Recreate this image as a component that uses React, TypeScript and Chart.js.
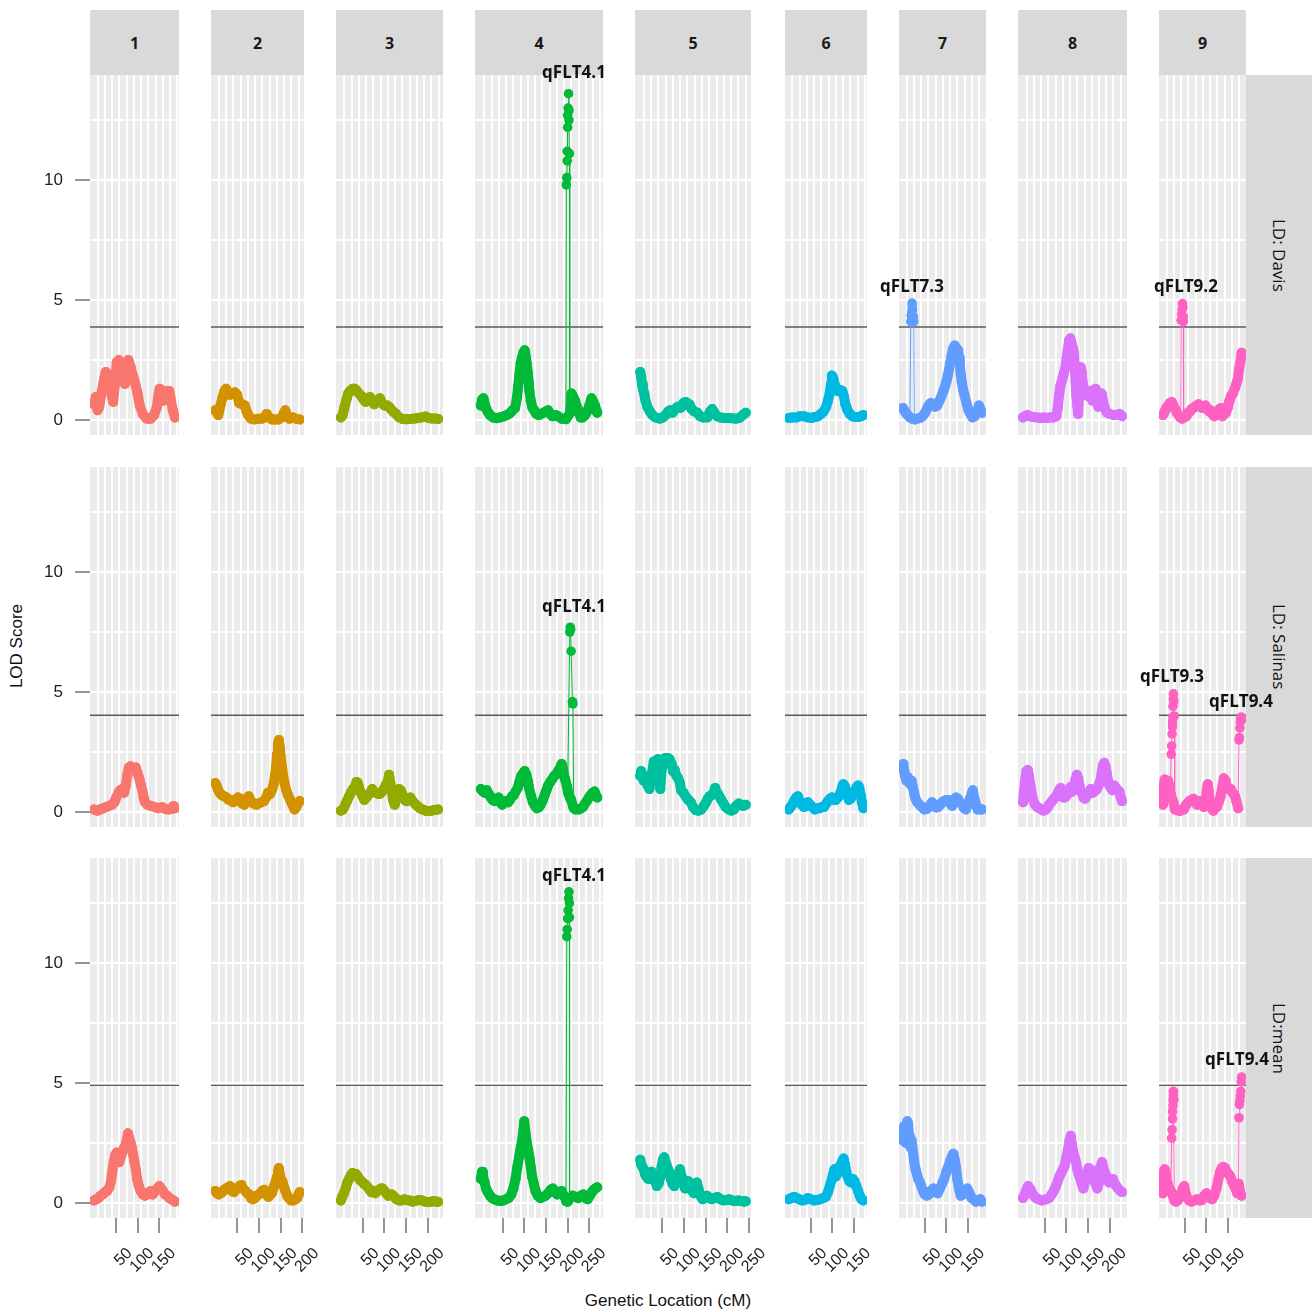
import React, { useEffect, useRef } from 'react';
import { Chart, registerables } from 'chart.js';

Chart.register(...registerables);

type Pt = [number, number];

// ---------------- DATA ----------------
const chromosomes = ['1', '2', '3', '4', '5', '6', '7', '8', '9'];
const chrLengths = [186, 194, 224, 268, 242, 171, 182, 228, 182]; // cM
const chrColors = ['#F8766D', '#D39200', '#93AA00', '#00BA38', '#00C19F', '#00B9E3', '#619CFF', '#DB72FB', '#FF61C3'];
const environments = ['LD: Davis', 'LD: Salinas', 'LD:mean'];
const thresholds = [3.87, 4.03, 4.9];
const lodTickLabels = [0, 5, 10];
const positionTickLabels = [50, 100, 150, 200, 250];

// LD: Davis
const davis1: Pt[] = [[0,0.65],[4,0.95],[8,0.4],[12,0.55],[17,1.1],[22,1.6],[27,2.0],[32,1.8],[37,1.5],[41,1.0],[44,0.75],[48,1.5],[52,2.4],[57,2.5],[61,2.0],[66,1.6],[71,1.5],[76,2.2],[79,2.5],[84,2.2],[90,1.8],[95,1.5],[100,1.1],[105,0.6],[112,0.25],[121,0.05],[130,0.05],[138,0.2],[144,0.5],[148,1.0],[151,1.3],[155,1.2],[159,0.8],[163,1.0],[168,1.2],[173,1.2],[177,0.8],[181,0.4],[186,0.1]];
const davis2: Pt[] = [[0,0.4],[4,0.3],[7,0.2],[12,0.6],[17,0.95],[21,1.2],[25,1.3],[30,1.15],[34,1.05],[40,1.1],[45,1.15],[50,1.05],[55,0.7],[62,0.65],[68,0.6],[72,0.35],[76,0.2],[82,0.05],[90,0.02],[100,0.05],[107,0.05],[113,0.1],[118,0.25],[124,0.1],[130,0.02],[138,0.02],[145,0.02],[152,0.1],[158,0.3],[161,0.4],[165,0.15],[170,0.05],[178,0.1],[185,0.05],[194,0.02]];
const davis3: Pt[] = [[0,0.1],[4,0.2],[8,0.5],[13,0.85],[17,1.1],[21,1.2],[27,1.3],[32,1.3],[37,1.2],[42,1.1],[47,1.0],[52,0.85],[57,0.75],[62,0.85],[67,0.95],[72,0.8],[77,0.65],[83,0.75],[90,0.9],[95,0.7],[100,0.6],[107,0.6],[113,0.5],[120,0.35],[127,0.25],[134,0.1],[142,0.04],[150,0.03],[160,0.04],[170,0.06],[178,0.08],[186,0.1],[195,0.14],[202,0.08],[209,0.06],[216,0.06],[224,0.04]];
const davis4: Pt[] = [[0,0.6],[3,0.85],[6,0.9],[10,0.6],[13,0.45],[17,0.3],[21,0.2],[28,0.1],[36,0.07],[44,0.1],[52,0.14],[60,0.2],[67,0.28],[73,0.4],[79,0.5],[83,0.9],[86,1.4],[89,1.9],[92,2.4],[95,2.6],[98,2.8],[101,2.9],[104,2.6],[106,2.3],[108,2.0],[110,1.6],[112,1.2],[115,0.8],[119,0.5],[123,0.4],[128,0.25],[133,0.2],[139,0.25],[144,0.3],[150,0.35],[155,0.4],[160,0.25],[165,0.15],[172,0.2],[178,0.15],[186,0.05],[192,0.05],[196,0.03],[206,0.3],[209,1.1],[213,0.95],[217,0.8],[221,0.55],[225,0.4],[230,0.1],[235,0.1],[240,0.2],[245,0.35],[250,0.6],[255,0.9],[259,0.75],[263,0.6],[268,0.3]];
const davis5: Pt[] = [[0,2.0],[2,1.8],[4,1.5],[6,1.3],[9,1.1],[12,0.8],[16,0.55],[22,0.35],[28,0.2],[35,0.1],[45,0.05],[52,0.1],[58,0.2],[64,0.35],[68,0.4],[74,0.3],[80,0.45],[86,0.55],[92,0.5],[99,0.7],[104,0.75],[109,0.6],[113,0.65],[118,0.45],[124,0.35],[131,0.3],[137,0.15],[145,0.1],[154,0.1],[160,0.35],[165,0.45],[170,0.3],[176,0.15],[184,0.1],[192,0.08],[200,0.08],[210,0.07],[220,0.05],[228,0.08],[235,0.2],[242,0.3]];
const davis6: Pt[] = [[0,0.08],[8,0.1],[17,0.1],[26,0.15],[35,0.15],[44,0.1],[53,0.08],[60,0.12],[67,0.15],[74,0.25],[80,0.35],[86,0.55],[90,0.8],[94,1.1],[97,1.5],[99,1.85],[102,1.75],[105,1.5],[108,1.3],[113,1.2],[118,1.25],[123,1.2],[127,0.95],[130,0.65],[135,0.4],[140,0.25],[146,0.15],[153,0.12],[160,0.12],[166,0.15],[171,0.2]];
const davis7: Pt[] = [[0,0.5],[3,0.4],[6,0.3],[11,0.2],[16,0.1],[21,0.05],[27,0.02],[33,0.05],[39,0.08],[45,0.15],[51,0.3],[55,0.45],[59,0.6],[64,0.7],[69,0.65],[74,0.55],[79,0.6],[84,0.8],[89,1.0],[93,1.2],[97,1.4],[100,1.6],[103,1.85],[106,2.1],[109,2.4],[112,2.7],[115,2.95],[119,3.1],[123,3.0],[127,2.9],[129,2.6],[131,2.3],[133,1.9],[135,1.6],[138,1.3],[142,1.0],[147,0.65],[151,0.4],[155,0.25],[160,0.1],[165,0.15],[170,0.3],[175,0.6],[178,0.45],[182,0.3]];
const davis8: Pt[] = [[0,0.1],[5,0.15],[10,0.2],[17,0.15],[24,0.12],[32,0.1],[40,0.08],[48,0.1],[55,0.08],[62,0.1],[70,0.1],[77,0.15],[80,0.5],[83,1.0],[86,1.4],[89,1.6],[92,1.8],[95,2.0],[98,2.2],[100,2.5],[103,2.9],[106,3.3],[109,3.4],[112,3.2],[115,3.0],[117,2.8],[119,2.3],[121,1.6],[123,1.0],[125,0.6],[127,0.25],[129,1.0],[131,1.8],[133,2.2],[135,2.0],[137,1.6],[140,1.3],[144,1.1],[148,1.0],[152,1.2],[156,1.0],[160,0.8],[164,1.1],[167,1.3],[170,0.9],[173,0.55],[177,0.8],[181,1.1],[184,0.8],[188,0.5],[193,0.3],[200,0.25],[208,0.2],[215,0.2],[222,0.25],[228,0.15]];
const davis9: Pt[] = [[0,0.2],[4,0.35],[8,0.5],[12,0.6],[16,0.7],[20,0.75],[24,0.6],[28,0.45],[32,0.3],[36,0.2],[40,0.1],[44,0.05],[49,0.1],[54,0.15],[58,0.3],[62,0.35],[66,0.45],[70,0.5],[74,0.55],[78,0.6],[82,0.65],[86,0.55],[90,0.5],[94,0.55],[98,0.6],[102,0.45],[106,0.35],[110,0.4],[114,0.25],[118,0.15],[122,0.2],[126,0.35],[130,0.45],[134,0.5],[137,0.15],[141,0.25],[145,0.3],[149,0.5],[153,0.8],[157,1.0],[161,1.1],[165,1.3],[169,1.5],[172,1.7],[175,2.1],[178,2.4],[181,2.8]];
const davisPeak4: Pt[] = [[196,0.05],[197,9.8],[198,10.1],[199,10.8],[199,11.2],[200,12.2],[200,12.7],[201,13.0],[202,13.6],[203,12.9],[203,12.5],[204,11.1],[205,0.3]];
const davisPeak7: Pt[] = [[16,0.1],[18,4.1],[19,4.35],[20,4.5],[21,4.75],[21,4.87],[22,4.6],[24,4.3],[25,4.1],[26,0.05]];
const davisPeak9: Pt[] = [[41,0.1],[42,4.15],[43,4.4],[44,4.6],[45,4.85],[46,4.7],[47,4.3],[47,4.1],[48,0.1]];

// LD: Salinas
const salinas1: Pt[] = [[0,0.1],[8,0.05],[14,0.1],[21,0.15],[28,0.2],[34,0.25],[41,0.3],[47,0.4],[51,0.6],[56,0.8],[60,0.9],[65,0.95],[69,0.8],[73,1.1],[76,1.5],[80,1.85],[84,1.9],[88,1.75],[92,1.8],[96,1.85],[100,1.6],[104,1.4],[108,1.1],[111,0.9],[114,0.6],[117,0.4],[123,0.3],[130,0.25],[139,0.2],[147,0.15],[156,0.2],[164,0.12],[171,0.1],[178,0.12],[183,0.25],[186,0.15]];
const salinas2: Pt[] = [[0,1.2],[3,1.1],[6,0.95],[10,0.8],[15,0.7],[20,0.65],[26,0.6],[31,0.5],[36,0.5],[41,0.4],[47,0.5],[52,0.6],[57,0.55],[62,0.35],[67,0.3],[72,0.55],[77,0.65],[82,0.45],[88,0.35],[94,0.3],[100,0.35],[106,0.4],[112,0.45],[117,0.6],[121,0.8],[126,0.75],[130,0.9],[134,1.15],[137,1.5],[140,1.9],[142,2.4],[144,2.8],[146,3.0],[148,2.7],[150,2.3],[153,1.9],[156,1.5],[159,1.2],[163,0.9],[167,0.7],[172,0.5],[177,0.3],[182,0.1],[186,0.2],[190,0.35],[194,0.45]];
const salinas3: Pt[] = [[0,0.05],[5,0.1],[10,0.3],[14,0.45],[19,0.65],[23,0.8],[28,0.95],[32,1.0],[36,1.25],[39,1.2],[42,1.0],[46,0.8],[50,0.65],[54,0.5],[59,0.6],[63,0.7],[68,0.8],[72,0.95],[76,0.85],[81,0.8],[86,0.75],[90,0.75],[95,0.85],[99,0.95],[104,1.15],[108,1.25],[111,1.55],[114,1.2],[117,0.9],[120,0.5],[124,0.3],[127,0.6],[130,0.85],[134,0.95],[138,0.9],[142,0.7],[147,0.5],[151,0.45],[156,0.55],[160,0.6],[165,0.45],[170,0.35],[176,0.25],[182,0.15],[188,0.1],[195,0.05],[202,0.04],[209,0.05],[216,0.08],[224,0.1]];
const salinas4: Pt[] = [[0,0.95],[5,0.85],[9,0.8],[14,0.9],[18,0.75],[23,0.6],[27,0.5],[32,0.45],[36,0.55],[41,0.6],[45,0.45],[49,0.3],[54,0.4],[58,0.45],[63,0.4],[67,0.5],[72,0.65],[76,0.7],[80,0.85],[85,1.0],[89,1.25],[93,1.5],[97,1.6],[101,1.7],[105,1.55],[108,1.3],[111,1.0],[115,0.7],[120,0.4],[125,0.25],[129,0.15],[134,0.2],[138,0.3],[143,0.5],[147,0.7],[151,0.9],[155,1.1],[160,1.25],[164,1.35],[169,1.5],[173,1.55],[178,1.7],[182,1.8],[186,2.0],[189,1.8],[192,1.5],[195,1.3],[198,1.1],[201,0.8],[205,0.6],[208,0.5],[214,0.15],[218,0.1],[222,0.12],[226,0.1],[231,0.15],[235,0.2],[240,0.35],[244,0.45],[249,0.6],[253,0.7],[258,0.8],[262,0.85],[265,0.7],[268,0.6]];
const salinas5: Pt[] = [[0,1.5],[2,1.7],[5,1.45],[8,1.3],[11,1.5],[14,1.3],[17,1.1],[21,0.95],[24,1.3],[27,1.6],[31,2.1],[35,2.0],[38,2.15],[41,2.2],[44,1.6],[46,0.95],[48,1.5],[50,1.9],[54,2.2],[58,2.25],[63,2.25],[67,2.2],[72,2.0],[75,1.7],[79,1.75],[83,1.5],[87,1.4],[91,1.2],[94,0.9],[99,0.8],[104,0.65],[110,0.5],[116,0.4],[121,0.2],[127,0.08],[133,0.05],[140,0.1],[146,0.25],[151,0.4],[155,0.55],[159,0.65],[164,0.7],[168,0.8],[172,1.0],[176,0.8],[180,0.7],[186,0.5],[191,0.35],[196,0.2],[203,0.1],[209,0.05],[215,0.1],[220,0.25],[226,0.35],[231,0.3],[236,0.25],[242,0.3]];
const salinas6: Pt[] = [[0,0.1],[4,0.2],[8,0.3],[12,0.45],[17,0.6],[21,0.65],[25,0.45],[30,0.3],[35,0.2],[40,0.3],[44,0.4],[49,0.3],[54,0.2],[60,0.1],[66,0.15],[71,0.15],[76,0.2],[81,0.2],[86,0.35],[90,0.45],[95,0.55],[99,0.6],[104,0.5],[108,0.5],[113,0.6],[118,0.75],[122,1.0],[125,1.15],[128,1.1],[131,0.9],[134,0.7],[138,0.5],[142,0.55],[146,0.7],[150,0.85],[155,1.0],[159,1.1],[162,1.0],[165,0.7],[168,0.4],[171,0.15]];
const salinas7: Pt[] = [[0,1.8],[1,2.0],[3,1.7],[5,1.5],[8,1.3],[11,1.45],[14,1.3],[17,1.15],[20,1.3],[23,1.0],[26,0.75],[29,0.55],[33,0.4],[38,0.3],[44,0.2],[49,0.1],[54,0.12],[59,0.18],[63,0.3],[67,0.4],[71,0.3],[76,0.18],[81,0.2],[86,0.3],[90,0.4],[95,0.45],[100,0.5],[104,0.5],[109,0.35],[113,0.25],[118,0.45],[122,0.6],[126,0.55],[131,0.4],[136,0.3],[141,0.15],[145,0.1],[150,0.35],[154,0.55],[158,0.75],[161,0.9],[164,0.6],[168,0.3],[172,0.1],[177,0.1],[182,0.1]];
const salinas8: Pt[] = [[0,0.4],[2,0.8],[5,1.3],[8,1.7],[11,1.75],[14,1.5],[17,1.1],[20,0.8],[23,0.5],[28,0.3],[33,0.2],[38,0.15],[42,0.1],[47,0.05],[51,0.08],[56,0.15],[60,0.3],[65,0.4],[69,0.5],[74,0.6],[78,0.7],[83,0.9],[87,1.0],[90,0.75],[93,0.6],[97,0.6],[101,0.7],[105,0.85],[110,1.05],[114,0.85],[117,1.0],[120,1.3],[124,1.55],[127,1.4],[130,1.1],[134,0.85],[139,0.6],[143,0.55],[148,0.7],[152,0.8],[156,0.95],[160,0.8],[165,0.85],[170,0.95],[174,1.1],[178,1.3],[181,1.6],[184,1.95],[187,2.05],[190,1.9],[193,1.6],[196,1.3],[199,1.1],[202,1.0],[206,0.9],[210,1.1],[214,1.0],[218,0.9],[222,0.85],[225,0.6],[228,0.45]];
const salinas9: Pt[] = [[0,0.3],[1,0.75],[2,1.1],[4,1.35],[6,1.3],[9,1.2],[12,1.3],[15,1.1],[17,0.8],[20,0.6],[24,0.4],[28,0.1],[32,0.1],[36,0.05],[40,0.04],[44,0.1],[48,0.1],[52,0.25],[56,0.35],[61,0.45],[66,0.5],[70,0.55],[74,0.45],[78,0.3],[82,0.4],[86,0.45],[90,0.3],[94,0.2],[98,0.5],[101,0.9],[103,1.15],[105,0.9],[108,0.4],[112,0.15],[116,0.05],[120,0.15],[124,0.2],[128,0.4],[132,0.6],[136,1.0],[140,1.4],[144,1.3],[148,1.0],[152,0.95],[156,0.95],[160,0.8],[165,0.7],[169,0.45],[173,0.15]];
const salinasPeak4: Pt[] = [[200,1.0],[205,7.5],[206,7.7],[207,7.6],[208,6.7],[211,4.6],[212,4.5],[214,0.2]];
const salinasPeak9a: Pt[] = [[17,0.9],[19,2.4],[20,2.75],[21,3.25],[22,3.55],[22,3.75],[23,3.95],[23,4.4],[24,4.7],[24,4.92],[25,4.6],[26,4.0],[27,0.1]];
const salinasPeak9b: Pt[] = [[173,0.15],[175,3.0],[176,3.1],[177,3.5],[178,3.75],[179,3.9],[180,3.95],[181,3.85]];

// LD:mean
const mean1: Pt[] = [[0,0.1],[5,0.15],[10,0.2],[15,0.3],[20,0.35],[25,0.45],[30,0.5],[35,0.65],[39,0.9],[42,1.3],[45,1.7],[49,2.0],[52,2.1],[55,1.9],[58,1.7],[61,1.9],[65,2.1],[69,2.3],[72,2.4],[75,2.6],[78,2.9],[81,2.7],[84,2.5],[87,2.3],[90,2.0],[93,1.7],[96,1.4],[99,1.0],[103,0.7],[107,0.5],[112,0.35],[117,0.3],[122,0.35],[127,0.45],[131,0.5],[135,0.35],[140,0.5],[145,0.6],[150,0.7],[154,0.6],[158,0.5],[163,0.35],[168,0.3],[173,0.2],[178,0.15],[182,0.1],[186,0.05]];
const mean2: Pt[] = [[0,0.5],[4,0.4],[8,0.35],[12,0.4],[16,0.45],[21,0.55],[25,0.6],[30,0.65],[34,0.7],[38,0.5],[43,0.45],[47,0.55],[51,0.6],[56,0.7],[60,0.75],[64,0.6],[69,0.5],[73,0.4],[78,0.35],[82,0.2],[86,0.15],[91,0.2],[95,0.3],[100,0.35],[104,0.4],[108,0.5],[113,0.55],[117,0.35],[122,0.25],[126,0.35],[130,0.4],[135,0.7],[139,0.9],[142,1.1],[144,1.3],[146,1.45],[148,1.2],[151,0.9],[154,0.9],[157,0.7],[161,0.5],[165,0.3],[169,0.2],[174,0.1],[179,0.1],[184,0.15],[188,0.2],[191,0.35],[194,0.45]];
const mean3: Pt[] = [[0,0.1],[3,0.25],[7,0.4],[11,0.6],[15,0.85],[19,1.0],[23,1.15],[27,1.25],[31,1.2],[35,1.2],[39,1.1],[44,0.95],[48,0.9],[53,0.8],[57,0.75],[62,0.65],[66,0.55],[70,0.45],[75,0.5],[79,0.4],[84,0.5],[88,0.55],[92,0.6],[96,0.6],[100,0.5],[104,0.4],[109,0.3],[113,0.35],[118,0.35],[123,0.25],[128,0.15],[134,0.1],[140,0.1],[146,0.15],[152,0.12],[158,0.1],[165,0.05],[172,0.08],[180,0.12],[187,0.1],[194,0.05],[201,0.03],[208,0.05],[215,0.08],[220,0.04],[224,0.05]];
const mean4: Pt[] = [[0,1.0],[3,1.3],[5,1.1],[8,0.9],[12,0.6],[16,0.45],[21,0.3],[26,0.2],[31,0.15],[38,0.1],[45,0.08],[52,0.1],[58,0.15],[64,0.2],[70,0.35],[75,0.6],[80,1.0],[84,1.5],[88,1.9],[92,2.3],[95,2.6],[98,3.0],[100,3.4],[103,2.9],[106,2.5],[109,2.2],[112,1.9],[115,1.5],[118,1.1],[122,0.8],[126,0.5],[131,0.3],[137,0.2],[143,0.25],[149,0.3],[155,0.4],[161,0.55],[166,0.6],[171,0.45],[176,0.35],[181,0.4],[186,0.5],[191,0.3],[196,0.15],[200,0.05],[206,0.2],[212,0.3],[218,0.25],[224,0.2],[230,0.3],[236,0.35],[241,0.2],[246,0.15],[251,0.3],[256,0.45],[260,0.55],[264,0.6],[268,0.65]];
const mean5: Pt[] = [[0,1.8],[2,1.6],[5,1.5],[8,1.4],[11,1.2],[14,1.1],[18,1.0],[22,1.2],[26,1.3],[30,1.1],[34,0.9],[38,0.7],[42,0.8],[46,1.1],[49,1.5],[52,1.8],[55,1.9],[58,1.7],[62,1.5],[66,1.3],[70,1.0],[74,0.8],[78,0.7],[82,0.9],[87,1.2],[91,1.4],[95,1.1],[99,0.8],[103,0.6],[107,0.75],[111,0.9],[115,0.7],[119,0.5],[123,0.4],[127,0.7],[130,0.85],[134,0.55],[138,0.3],[143,0.15],[148,0.2],[153,0.3],[158,0.2],[164,0.15],[170,0.2],[177,0.25],[184,0.15],[190,0.1],[197,0.12],[204,0.15],[211,0.1],[218,0.08],[225,0.1],[232,0.08],[238,0.05],[242,0.07]];
const mean6: Pt[] = [[0,0.15],[6,0.2],[12,0.25],[18,0.2],[24,0.15],[30,0.1],[37,0.12],[44,0.2],[51,0.15],[58,0.1],[65,0.12],[72,0.15],[79,0.2],[85,0.25],[90,0.45],[95,0.75],[99,1.0],[102,1.2],[105,1.4],[108,1.1],[111,1.2],[115,1.4],[118,1.55],[122,1.7],[126,1.85],[129,1.6],[132,1.3],[135,1.1],[139,0.9],[143,0.85],[147,1.0],[151,0.9],[155,0.7],[159,0.5],[163,0.3],[167,0.15],[171,0.1]];
const mean7: Pt[] = [[0,2.6],[1,2.9],[3,3.2],[5,2.7],[7,2.5],[9,3.0],[10,3.4],[12,3.3],[14,2.8],[16,2.5],[18,2.3],[20,2.6],[22,2.3],[24,2.0],[26,1.7],[29,1.4],[32,1.2],[35,1.0],[38,0.9],[42,0.7],[46,0.5],[50,0.35],[55,0.3],[60,0.35],[65,0.5],[70,0.6],[75,0.5],[80,0.4],[85,0.6],[90,0.8],[95,1.0],[100,1.3],[104,1.5],[108,1.7],[112,1.9],[116,2.05],[119,1.8],[122,1.5],[125,1.0],[129,0.6],[133,0.3],[138,0.35],[143,0.5],[148,0.6],[153,0.4],[158,0.2],[163,0.15],[168,0.05],[173,0.1],[178,0.15],[182,0.05]];
const mean8: Pt[] = [[0,0.2],[4,0.35],[8,0.55],[12,0.7],[16,0.6],[20,0.45],[25,0.3],[30,0.2],[36,0.15],[42,0.1],[48,0.12],[54,0.15],[60,0.2],[66,0.35],[71,0.5],[76,0.7],[80,0.9],[84,1.1],[88,1.25],[92,1.4],[96,1.55],[100,1.9],[104,2.25],[107,2.6],[110,2.8],[113,2.4],[116,2.1],[119,1.9],[122,1.7],[125,1.4],[128,1.2],[132,1.0],[135,0.8],[139,0.6],[143,0.9],[147,1.2],[151,1.45],[155,1.4],[159,1.2],[163,1.0],[167,0.8],[171,0.6],[174,0.8],[178,1.5],[182,1.7],[186,1.4],[190,1.2],[194,1.0],[198,0.85],[202,0.9],[207,1.0],[211,0.8],[215,0.7],[219,0.6],[224,0.5],[228,0.45]];
const mean9: Pt[] = [[0,0.4],[1,0.9],[2,1.3],[4,1.4],[6,1.3],[8,1.0],[11,0.8],[14,0.6],[17,0.5],[20,0.45],[23,0.3],[26,0.1],[30,0.05],[34,0.1],[38,0.2],[42,0.4],[46,0.6],[49,0.7],[52,0.4],[56,0.2],[60,0.1],[66,0.05],[72,0.1],[78,0.15],[84,0.1],[90,0.12],[95,0.3],[100,0.4],[104,0.3],[108,0.2],[113,0.15],[118,0.3],[123,0.6],[127,0.95],[131,1.25],[135,1.45],[139,1.5],[143,1.45],[147,1.3],[151,1.2],[155,1.1],[159,0.9],[163,0.75],[167,0.6],[171,0.4],[174,0.8],[176,0.6],[178,0.4],[181,0.3]];
const meanPeak4: Pt[] = [[196,0.05],[198,11.1],[199,11.4],[200,11.85],[201,12.2],[202,12.7],[203,12.97],[204,12.5],[204,11.9],[205,0.2]];
const meanPeak9a: Pt[] = [[18,0.5],[20,2.7],[21,3.05],[22,3.5],[22,3.8],[23,4.05],[23,4.3],[24,4.5],[24,4.65],[25,4.3],[26,0.1]];
const meanPeak9b: Pt[] = [[174,0.8],[175,3.55],[176,4.1],[177,4.25],[178,4.45],[179,4.65],[180,5.05],[181,5.25]];

const scanCurves: Pt[][][] = [
  [davis1, davis2, davis3, davis4, davis5, davis6, davis7, davis8, davis9],
  [salinas1, salinas2, salinas3, salinas4, salinas5, salinas6, salinas7, salinas8, salinas9],
  [mean1, mean2, mean3, mean4, mean5, mean6, mean7, mean8, mean9],
];
const peakSegments: Pt[][][][] = [
  [[], [], [], [davisPeak4], [], [], [davisPeak7], [], [davisPeak9]],
  [[], [], [], [salinasPeak4], [], [], [], [], [salinasPeak9a, salinasPeak9b]],
  [[], [], [], [meanPeak4], [], [], [], [], [meanPeak9a, meanPeak9b]],
];
const qtlLabels = [
  { env: 0, chr: 3, name: 'qFLT4.1', cM: 214.5, lod: 14.46 },
  { env: 0, chr: 6, name: 'qFLT7.3', cM: 20.8, lod: 5.54 },
  { env: 0, chr: 8, name: 'qFLT9.2', cM: 53, lod: 5.54 },
  { env: 1, chr: 3, name: 'qFLT4.1', cM: 214.5, lod: 8.54 },
  { env: 1, chr: 8, name: 'qFLT9.3', cM: 20.8, lod: 5.61 },
  { env: 1, chr: 8, name: 'qFLT9.4', cM: 179.6, lod: 4.56 },
  { env: 2, chr: 3, name: 'qFLT4.1', cM: 214.5, lod: 13.64 },
  { env: 2, chr: 8, name: 'qFLT9.4', cM: 170.4, lod: 5.94 },
];

// ---------------- LAYOUT ----------------
const COL_LEFT = [90, 211, 336, 475, 635, 785, 899, 1018, 1159];
const COL_RIGHT = [179, 304, 443, 603, 751, 867, 986, 1127, 1246];
const ROW_TOP = [75, 467, 858];
const ROW_BOTTOM = [435, 827, 1218];
const LOD_MIN = -0.63;
const LOD_MAX = 14.38;
const STRIP_TOP = 10;
const STRIP_RIGHT_W = 66;
const AXIS_FONT = "'Liberation Sans', Arial, sans-serif";
const LABEL_FONT = "'Open Sans', 'Noto Sans', sans-serif";

const isMultiple = (v: number, step: number) => Math.abs(v / step - Math.round(v / step)) < 1e-6;

function PanelChart({ r, c }: { r: number; c: number }) {
  const ref = useRef<HTMLCanvasElement | null>(null);
  const padL = c === 0 ? 82 : 30;
  const padR = 30;
  const padT = 30;
  const padB = r === 2 ? 80 : 30;
  const pw = COL_RIGHT[c] - COL_LEFT[c];
  const ph = ROW_BOTTOM[r] - ROW_TOP[r];
  const W = pw + padL + padR;
  const H = ph + padT + padB;

  useEffect(() => {
    if (!ref.current) return;
    const L = chrLengths[c];
    const xMin = -0.05 * L;
    const xMax = 1.05 * L;
    const color = chrColors[c];
    const gridStep = positionTickLabels[0] / 6; // 25/3 cM
    const xGrid: number[] = [];
    for (let k = 1; k * gridStep < xMax; k += 2) xGrid.push(k * gridStep);
    const xTicks = positionTickLabels.filter((v) => v <= xMax);
    const xAll = [...xGrid, ...xTicks].sort((a, b) => a - b);
    const lodStep = lodTickLabels[1] - lodTickLabels[0];
    const yAll: number[] = [];
    for (let v = 0; v < LOD_MAX; v += lodStep / 2) yAll.push(v);

    const curve = scanCurves[r][c];
    const peaks = peakSegments[r][c];
    const labels = qtlLabels.filter((q) => q.env === r && q.chr === c);
    const thr = thresholds[r];

    const datasets: any[] = [
      {
        data: curve.map(([x, y]) => ({ x, y })),
        showLine: true,
        borderColor: color,
        backgroundColor: color,
        borderWidth: 10,
        borderCapStyle: 'round',
        borderJoinStyle: 'round',
        pointRadius: 5,
        pointBorderWidth: 0,
        pointBackgroundColor: color,
        pointHoverRadius: 5,
      },
      ...peaks.map((p) => ({
        data: p.map(([x, y]) => ({ x, y })),
        showLine: true,
        borderColor: color,
        backgroundColor: color,
        borderWidth: 1,
        pointRadius: 4.8,
        pointBorderWidth: 0,
        pointBackgroundColor: color,
        pointHoverRadius: 4.8,
      })),
    ];

    const bgPlugin = {
      id: 'panelBg',
      beforeDraw(chart: any) {
        const { ctx, chartArea: a } = chart;
        ctx.save();
        ctx.fillStyle = '#EBEBEB';
        ctx.fillRect(a.left, a.top, a.right - a.left, a.bottom - a.top);
        ctx.restore();
      },
    };
    const thrPlugin = {
      id: 'threshold',
      beforeDatasetsDraw(chart: any) {
        const { ctx, chartArea: a } = chart;
        const y = chart.scales.y.getPixelForValue(thr);
        ctx.save();
        ctx.strokeStyle = '#5A5A5A';
        ctx.lineWidth = 1.4;
        ctx.beginPath();
        ctx.moveTo(a.left, y);
        ctx.lineTo(a.right, y);
        ctx.stroke();
        ctx.restore();
      },
    };
    const labelPlugin = {
      id: 'qtlLabels',
      afterDraw(chart: any) {
        const { ctx } = chart;
        ctx.save();
        ctx.font = `bold 17px ${LABEL_FONT}`;
        ctx.fillStyle = '#111111';
        ctx.textAlign = 'center';
        ctx.textBaseline = 'middle';
        labels.forEach((q) => {
          ctx.fillText(q.name, chart.scales.x.getPixelForValue(q.cM), chart.scales.y.getPixelForValue(q.lod));
        });
        ctx.restore();
      },
    };

    const chart = new Chart(ref.current, {
      type: 'scatter',
      data: { datasets },
      plugins: [bgPlugin, thrPlugin, labelPlugin],
      options: {
        responsive: false,
        maintainAspectRatio: false,
        animation: false,
        devicePixelRatio: 1,
        events: [],
        layout: { padding: { left: c === 0 ? 0 : 30, right: 30, top: 30, bottom: r === 2 ? 0 : 30 } },
        plugins: { legend: { display: false }, tooltip: { enabled: false } },
        scales: {
          x: {
            type: 'linear',
            min: xMin,
            max: xMax,
            afterBuildTicks: (s: any) => { s.ticks = xAll.map((v) => ({ value: v })); },
            afterFit: (s: any) => { s.height = r === 2 ? 80 : 0; s.paddingLeft = 0; s.paddingRight = 0; },
            border: { display: false },
            grid: {
              drawOnChartArea: true,
              color: (ctx: any) => (isMultiple(ctx.tick?.value ?? 0, 50) ? 'rgba(0,0,0,0)' : '#FFFFFF'),
              lineWidth: (ctx: any) => (isMultiple(ctx.tick?.value ?? 0, 50) ? 0 : 2),
              drawTicks: r === 2,
              tickLength: 15,
              tickWidth: 1.2,
              tickColor: (ctx: any) => (isMultiple(ctx.tick?.value ?? 0, 50) ? '#4D4D4D' : 'rgba(0,0,0,0)'),
            },
            ticks: {
              display: r === 2,
              autoSkip: false,
              minRotation: 45,
              maxRotation: 45,
              labelOffset: 14,
              padding: 11,
              color: '#222222',
              font: { family: AXIS_FONT, size: 16 },
              callback: (v: any) => (isMultiple(Number(v), 50) && Number(v) > 0 ? String(Math.round(Number(v))) : ''),
            },
          },
          y: {
            type: 'linear',
            min: LOD_MIN,
            max: LOD_MAX,
            afterBuildTicks: (s: any) => { s.ticks = yAll.map((v) => ({ value: v })); },
            afterFit: (s: any) => { s.width = c === 0 ? 82 : 0; s.paddingTop = 0; s.paddingBottom = 0; },
            border: { display: false },
            grid: {
              drawOnChartArea: true,
              color: '#FFFFFF',
              lineWidth: 2,
              drawTicks: c === 0,
              tickLength: 15,
              tickWidth: 1.2,
              tickColor: (ctx: any) => (isMultiple(ctx.tick?.value ?? 0.5, lodStep) ? '#4D4D4D' : 'rgba(0,0,0,0)'),
            },
            ticks: {
              display: c === 0,
              autoSkip: false,
              padding: 12,
              color: '#222222',
              font: { family: AXIS_FONT, size: 17 },
              callback: (v: any) => (lodTickLabels.includes(Number(v)) ? String(v) : ''),
            },
          },
        },
      } as any,
    });
    return () => chart.destroy();
  }, [r, c]);

  return (
    <canvas
      ref={ref}
      width={W}
      height={H}
      style={{ position: 'absolute', left: COL_LEFT[c] - padL, top: ROW_TOP[r] - padT, width: W, height: H, zIndex: 2 }}
    />
  );
}

export default function App() {
  const panels: React.ReactNode[] = [];
  for (let r = 0; r < 3; r++) for (let c = 0; c < 9; c++) panels.push(<PanelChart key={`${r}-${c}`} r={r} c={c} />);

  return (
    <div style={{ position: 'absolute', left: 0, top: 0, width: 1312, height: 1312, overflow: 'hidden', background: '#FFFFFF' }}>
      {chromosomes.map((ch, c) => (
        <div
          key={`strip-${ch}`}
          style={{
            position: 'absolute', left: COL_LEFT[c], top: STRIP_TOP, width: COL_RIGHT[c] - COL_LEFT[c], height: ROW_TOP[0] - STRIP_TOP,
            background: '#D9D9D9', display: 'flex', alignItems: 'center', justifyContent: 'center',
            fontFamily: LABEL_FONT, fontWeight: 'bold', fontSize: 16, color: '#1A1A1A', zIndex: 1,
          }}
        >
          {ch}
        </div>
      ))}
      {environments.map((env, r) => (
        <div
          key={`env-${r}`}
          style={{
            position: 'absolute', left: COL_RIGHT[8], top: ROW_TOP[r], width: STRIP_RIGHT_W, height: ROW_BOTTOM[r] - ROW_TOP[r],
            background: '#D9D9D9', display: 'flex', alignItems: 'center', justifyContent: 'center', zIndex: 1,
          }}
        >
          <span style={{ writingMode: 'vertical-rl', fontFamily: LABEL_FONT, fontSize: 17, color: '#111111', whiteSpace: 'nowrap' }}>{env}</span>
        </div>
      ))}
      <div
        style={{
          position: 'absolute', left: 0, top: ROW_TOP[0], width: 34, height: ROW_BOTTOM[2] - ROW_TOP[0],
          display: 'flex', alignItems: 'center', justifyContent: 'center', zIndex: 1,
        }}
      >
        <span style={{ writingMode: 'vertical-rl', transform: 'rotate(180deg)', fontFamily: AXIS_FONT, fontSize: 17, color: '#111111', whiteSpace: 'nowrap' }}>LOD Score</span>
      </div>
      <div
        style={{
          position: 'absolute', left: COL_LEFT[0], top: 1290, width: COL_RIGHT[8] - COL_LEFT[0], height: 22,
          textAlign: 'center', fontFamily: AXIS_FONT, fontSize: 17, color: '#111111', zIndex: 1, lineHeight: '22px',
        }}
      >
        Genetic Location (cM)
      </div>
      {panels}
    </div>
  );
}
